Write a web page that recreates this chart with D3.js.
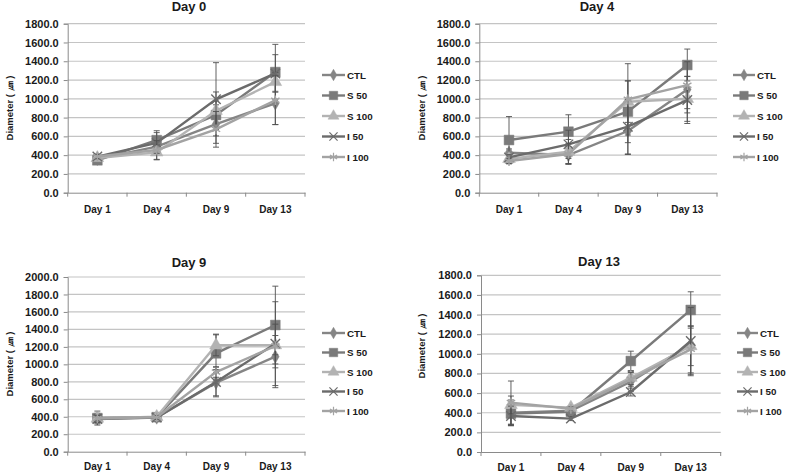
<!DOCTYPE html>
<html><head><meta charset="utf-8">
<script src="https://cdn.jsdelivr.net/npm/d3@7"></script>
<style>
html,body{margin:0;padding:0;background:#fff;}
svg text{font-family:"Liberation Sans",Arial,sans-serif;font-weight:bold;fill:#1a1a1a;}
</style></head>
<body><svg id="c" width="787" height="472"></svg>
<script>
const categories = ["Day 1","Day 4","Day 9","Day 13"];
const seriesNames = ["CTL","S 50","S 100","I 50","I 100"];
const panelTitles = ["Day 0","Day 4","Day 9","Day 13"];
const yMaxes = [1800,1800,2000,1800];
const yLabel = "Diameter ( \u339B )";

// mean values per series (CTL, S 50, S 100, I 50, I 100)
const day0Values = [[360,490,731,951],[345,560,827,1285],[370,430,873,1180],[385,530,995,1270],[385,455,675,985]];
const day0Errors = [[25,90,205,225],[20,100,150,295],[25,80,200,100],[20,110,390,200],[25,100,190,260]];
const day4Values = [[426,401,657,1100],[561,650,863,1360],[360,437,969,1000],[376,515,703,987],[337,412,994,1145]];
const day4Errors = [[40,90,250,250],[250,180,330,170],[30,130,220,240],[30,150,290,250],[30,110,380,250]];
const day9Values = [[380,390,790,1088],[385,395,1126,1450],[380,400,1218,1220],[375,390,798,1237],[380,395,912,1210]];
const day9Errors = [[60,20,150,355],[80,20,220,445],[40,20,120,110],[40,20,170,480],[40,20,60,250]];
const day13Values = [[400,420,717,1097],[391,410,927,1447],[480,452,757,1080],[367,340,611,1131],[503,440,740,1046]];
const day13Errors = [[130,20,100,320],[110,20,100,185],[90,20,70,200],[100,20,40,340],[220,20,70,240]];

const panelValues = [day0Values, day4Values, day9Values, day13Values];
const panelErrors = [day0Errors, day4Errors, day9Errors, day13Errors];

const colors = ["#858585","#7a7a7a","#b3b3b3","#6b6b6b","#a3a3a3"];
const symbols = [d3.symbolDiamond, d3.symbolSquare, d3.symbolTriangle, d3.symbolX, d3.symbolAsterisk];
const symSizes = [50, 95, 70, 60, 65];
const strokeSym = [false,false,false,true,true];

const layout = [
  {x0:67.7, x1:305, yT:23.7, yB:192.7, tx:189, ty:11, lx:322, ll:23, ly:75, ldy:20.5, ylx:9, yly:108, dly:213.5},
  {x0:479.3, x1:717, yT:23.7, yB:192.7, tx:597, ty:11, lx:733, ll:22, ly:75, ldy:20.5, ylx:421, yly:108, dly:213.5},
  {x0:67.7, x1:305, yT:277, yB:451.7, tx:189, ty:267, lx:322, ll:23, ly:333, ldy:19.5, ylx:9, yly:364, dly:470.5},
  {x0:481, x1:720.7, yT:275.3, yB:452, tx:599, ty:265.5, lx:737, ll:21, ly:333, ldy:19.5, ylx:421, yly:346, dly:470.5}
];

const svg = d3.select("#c");

panelTitles.forEach((title, p) => {
  const L = layout[p];
  const g = svg.append("g");
  const x = d3.scaleBand().domain(categories).range([L.x0, L.x1]);
  const y = d3.scaleLinear().domain([0, yMaxes[p]]).range([L.yB, L.yT]);
  const cx = c => x(c) + x.bandwidth()/2;
  const ticks = d3.range(0, yMaxes[p] + 1, 200);

  // gridlines
  g.append("g").selectAll("line").data(ticks.filter(t => t > 0)).join("line")
    .attr("x1", L.x0).attr("x2", L.x1).attr("y1", d => y(d)).attr("y2", d => y(d))
    .attr("stroke", "#c4c4c4").attr("stroke-width", 1.2);

  // y axis
  const ya = g.append("g").attr("transform", `translate(${L.x0},0)`)
    .call(d3.axisLeft(y).tickValues(ticks).tickFormat(d3.format(".1f")).tickSize(4).tickPadding(5));
  ya.select(".domain").attr("stroke", "#8a8a8a");
  ya.selectAll(".tick line").attr("stroke", "#8a8a8a");
  ya.selectAll(".tick text").attr("font-size", 11).attr("font-family", null).attr("fill", "#1a1a1a");

  // x axis
  const xa = g.append("g").attr("transform", `translate(0,${L.yB})`)
    .call(d3.axisBottom(x).tickSize(0).tickPadding(0));
  xa.select(".domain").attr("stroke", "#8a8a8a");
  xa.selectAll(".tick text").attr("font-size", 10).attr("font-family", null).attr("fill", "#1a1a1a")
    .attr("dy", null).attr("y", L.dly - L.yB);
  const bounds = categories.map(c => x(c)).concat([x.range()[1]]);
  xa.append("g").selectAll("line").data(bounds).join("line")
    .attr("x1", d => d).attr("x2", d => d).attr("y1", 0).attr("y2", 4).attr("stroke", "#8a8a8a");

  // title
  g.append("text").attr("x", L.tx).attr("y", L.ty).attr("text-anchor", "middle")
    .attr("font-size", 13).text(title);
  // y label
  g.append("text").attr("transform", `translate(${L.ylx},${L.yly}) rotate(-90)`)
    .attr("text-anchor", "middle").attr("dominant-baseline", "central")
    .attr("font-size", 9.5).text(yLabel);

  const line = d3.line().x((d, i) => cx(categories[i])).y(d => y(d));

  seriesNames.forEach((name, s) => {
    const vals = panelValues[p][s], errs = panelErrors[p][s];
    const sg = g.append("g");
    sg.append("path").datum(vals).attr("d", line).attr("fill", "none")
      .attr("stroke", colors[s]).attr("stroke-width", 2.4);
    // error bars
    vals.forEach((v, i) => {
      const xx = cx(categories[i]);
      const e = errs[i];
      sg.append("line").attr("x1", xx).attr("x2", xx).attr("y1", y(v - e)).attr("y2", y(v + e))
        .attr("stroke", "#505050").attr("stroke-width", 0.9);
      [v - e, v + e].forEach(t => {
        sg.append("line").attr("x1", xx - 3).attr("x2", xx + 3).attr("y1", y(t)).attr("y2", y(t))
          .attr("stroke", "#505050").attr("stroke-width", 0.9);
      });
    });
    // markers
    sg.selectAll("path.m").data(vals).join("path").attr("class", "m")
      .attr("transform", (d, i) => `translate(${cx(categories[i])},${y(d)})`)
      .attr("d", d3.symbol().type(symbols[s]).size(symSizes[s]))
      .attr("fill", strokeSym[s] ? "none" : colors[s])
      .attr("stroke", colors[s]).attr("stroke-width", strokeSym[s] ? 1.4 : 0.5);
  });

  // legend
  const lg = g.append("g");
  seriesNames.forEach((name, s) => {
    const yy = L.ly + s * L.ldy;
    lg.append("line").attr("x1", L.lx).attr("x2", L.lx + L.ll).attr("y1", yy).attr("y2", yy)
      .attr("stroke", colors[s]).attr("stroke-width", 2.4);
    lg.append("path").attr("transform", `translate(${L.lx + L.ll / 2},${yy})`)
      .attr("d", d3.symbol().type(symbols[s]).size(symSizes[s] * 0.75))
      .attr("fill", strokeSym[s] ? "none" : colors[s])
      .attr("stroke", colors[s]).attr("stroke-width", strokeSym[s] ? 1.2 : 0.5);
    lg.append("text").attr("x", L.lx + L.ll + 2).attr("y", yy).attr("dominant-baseline", "central")
      .attr("font-size", 9.8).text(name);
  });
});
</script></body></html>
